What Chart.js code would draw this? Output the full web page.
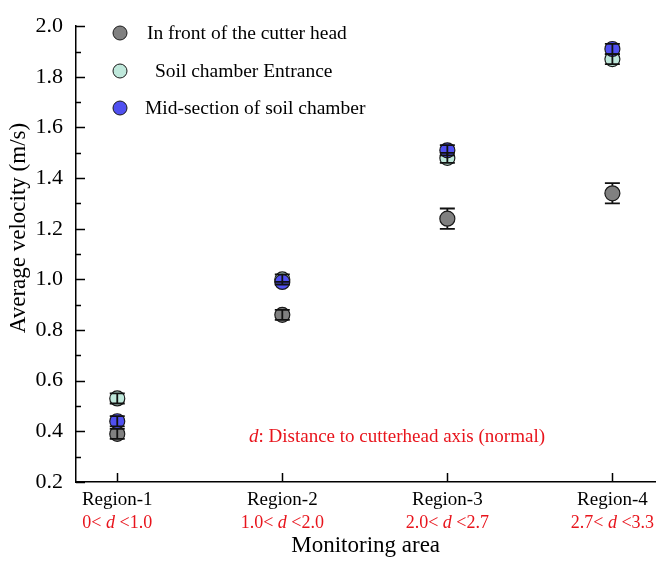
<!DOCTYPE html>
<html>
<head>
<meta charset="utf-8">
<script src="https://cdn.jsdelivr.net/npm/chart.js@4.4.1/dist/chart.umd.min.js"></script>
<style>
    html, body { margin: 0; padding: 0; background: #fff; }
    #chart { display: block; }
</style>
</head>
<body>
<canvas id="chart" width="664" height="564"></canvas>
<script>
// --- Data ---
const regions = ['Region-1', 'Region-2', 'Region-3', 'Region-4'];
const rangeLow = ['0', '1.0', '2.0', '2.7'];
const rangeHigh = ['1.0', '2.0', '2.7', '3.3'];
const yTickValues = [0.2, 0.4, 0.6, 0.8, 1.0, 1.2, 1.4, 1.6, 1.8, 2.0];

const frontVelocity = [0.39, 0.86, 1.24, 1.34];
const frontError = [0.02, 0.02, 0.04, 0.04];
const entranceVelocity = [0.53, 1.00, 1.48, 1.87];
const entranceError = [0.02, 0.02, 0.02, 0.02];
const midVelocity = [0.44, 0.99, 1.51, 1.91];
const midError = [0.02, 0.00, 0.02, 0.02];

const SERIF = "'Liberation Serif', 'Times New Roman', serif";
const RED = '#e8141c';

function toPoints(values) {
    return values.map((v, i) => ({ x: i + 1, y: v }));
}

function series(label, values, errors, color, order) {
    return {
        label: label,
        data: toPoints(values),
        errors: errors,
        order: order,
        backgroundColor: color,
        borderColor: '#1a1a1a',
        borderWidth: 1.2,
        pointRadius: 7.5,
        pointHoverRadius: 7.5,
        pointStyle: 'circle'
    };
}

// --- Ticks, error bars, legend and labels drawn on top of the chart ---
const decorations = {
    id: 'decorations',
    afterDatasetsDraw(chart) {
        const ctx = chart.ctx;
        const xs = chart.scales.x, ys = chart.scales.y;
        const area = chart.chartArea;
        ctx.save();

        // inward tick marks
        ctx.strokeStyle = '#000';
        ctx.lineWidth = 1.5;
        ctx.beginPath();
        for (let i = 2; i <= 20; i++) {
            const py = Math.round(ys.getPixelForValue(i / 10)) + 0.5;
            const len = i % 2 === 0 ? 9 : 5;
            ctx.moveTo(area.left, py);
            ctx.lineTo(area.left + len, py);
        }
        regions.forEach((r, i) => {
            const px = Math.round(xs.getPixelForValue(i + 1)) + 0.5;
            ctx.moveTo(px, area.bottom);
            ctx.lineTo(px, area.bottom - 9);
        });
        ctx.stroke();

        // error bars
        ctx.strokeStyle = '#111';
        ctx.lineWidth = 1.8;
        chart.data.datasets.forEach((ds, di) => {
            const meta = chart.getDatasetMeta(di);
            ds.data.forEach((pt, i) => {
                const err = ds.errors[i];
                const el = meta.data[i];
                const top = ys.getPixelForValue(pt.y + err);
                const bot = ys.getPixelForValue(pt.y - err);
                const half = (bot - top) / 2;
                const r = ds.pointRadius;
                ctx.beginPath();
                if (half > r) {
                    ctx.moveTo(el.x, top); ctx.lineTo(el.x, el.y - r);
                    ctx.moveTo(el.x, el.y + r); ctx.lineTo(el.x, bot);
                } else if (half > 0) {
                    ctx.moveTo(el.x, top); ctx.lineTo(el.x, bot);
                }
                ctx.moveTo(el.x - 7.5, top); ctx.lineTo(el.x + 7.5, top);
                ctx.moveTo(el.x - 7.5, bot); ctx.lineTo(el.x + 7.5, bot);
                ctx.stroke();
            });
        });

        // legend
        const legendY = [33, 71, 108];
        const legendX = [147, 150, 145];
        ctx.font = '19.5px ' + SERIF;
        ctx.textBaseline = 'middle';
        ctx.textAlign = 'left';
        chart.data.datasets.forEach((ds, di) => {
            ctx.beginPath();
            ctx.arc(120, legendY[di], 7, 0, Math.PI * 2);
            ctx.fillStyle = ds.backgroundColor;
            ctx.fill();
            ctx.lineWidth = 1;
            ctx.strokeStyle = '#1a1a1a';
            ctx.stroke();
            ctx.fillStyle = '#000';
            ctx.fillText(ds.label, legendX[di], legendY[di] + 1);
        });

        // category labels and distance ranges
        ctx.textAlign = 'center';
        regions.forEach((r, i) => {
            const px = xs.getPixelForValue(i + 1);
            ctx.font = '19px ' + SERIF;
            ctx.fillStyle = '#000';
            ctx.fillText(r, px, 500);
            drawRange(ctx, px, 523, rangeLow[i], rangeHigh[i]);
        });

        // axis titles
        ctx.fillStyle = '#000';
        ctx.font = '23px ' + SERIF;
        ctx.fillText('Monitoring area', (area.left + area.right) / 2, 546);
        ctx.save();
        ctx.translate(19, 228);
        ctx.rotate(-Math.PI / 2);
        ctx.font = '23px ' + SERIF;
        ctx.fillText('Average velocity (m/s)', 0, 0);
        ctx.restore();

        // note on the distance symbol
        ctx.textAlign = 'left';
        ctx.fillStyle = RED;
        ctx.font = 'italic 19px ' + SERIF;
        const wd = ctx.measureText('d').width;
        ctx.font = '19px ' + SERIF;
        const note = ': Distance to cutterhead axis (normal)';
        const wn = ctx.measureText(note).width;
        let nx = 397 - (wd + wn) / 2;
        ctx.font = 'italic 19px ' + SERIF;
        ctx.fillText('d', nx, 437);
        ctx.font = '19px ' + SERIF;
        ctx.fillText(note, nx + wd, 437);

        ctx.restore();
    }
};

function drawRange(ctx, x, y, low, high) {
    const a = low + '< ', b = 'd', c = ' <' + high;
    ctx.font = '18px ' + SERIF;
    const wa = ctx.measureText(a).width, wc = ctx.measureText(c).width;
    ctx.font = 'italic 18px ' + SERIF;
    const wb = ctx.measureText(b).width;
    let cx = x - (wa + wb + wc) / 2;
    ctx.textAlign = 'left';
    ctx.fillStyle = RED;
    ctx.font = '18px ' + SERIF;
    ctx.fillText(a, cx, y);
    ctx.font = 'italic 18px ' + SERIF;
    ctx.fillText(b, cx + wa, y);
    ctx.font = '18px ' + SERIF;
    ctx.fillText(c, cx + wa + wb, y);
    ctx.textAlign = 'center';
}

// --- Chart ---
new Chart(document.getElementById('chart'), {
    type: 'scatter',
    data: {
        datasets: [
            series('In front of the cutter head', frontVelocity, frontError, '#808080', 3),
            series(' Soil chamber Entrance', entranceVelocity, entranceError, '#bfe8db', 2),
            series('Mid-section of soil chamber', midVelocity, midError, '#5050f0', 1)
        ]
    },
    options: {
        responsive: false,
        animation: false,
        layout: { padding: { top: 15, right: 4, left: 0, bottom: 0 } },
        plugins: { legend: { display: false }, tooltip: { enabled: false } },
        scales: {
            x: {
                type: 'linear',
                min: 0.75,
                max: 4.26,
                afterBuildTicks: s => { s.ticks = regions.map((r, i) => ({ value: i + 1 })); },
                afterFit: s => { s.height = 82; },
                ticks: { display: false },
                grid: { display: false, drawTicks: false },
                border: { display: true, color: '#000', width: 1.5 }
            },
            y: {
                min: 0.2,
                max: 2.0,
                afterBuildTicks: s => { s.ticks = yTickValues.map(v => ({ value: v })); },
                afterFit: s => { s.width = 76; },
                ticks: {
                    padding: 13,
                    color: '#000',
                    font: { family: SERIF, size: 22 },
                    callback: v => v.toFixed(1)
                },
                grid: { display: false, drawTicks: false },
                border: { display: true, color: '#000', width: 1.5 }
            }
        }
    },
    plugins: [decorations]
});
</script>
</body>
</html>
